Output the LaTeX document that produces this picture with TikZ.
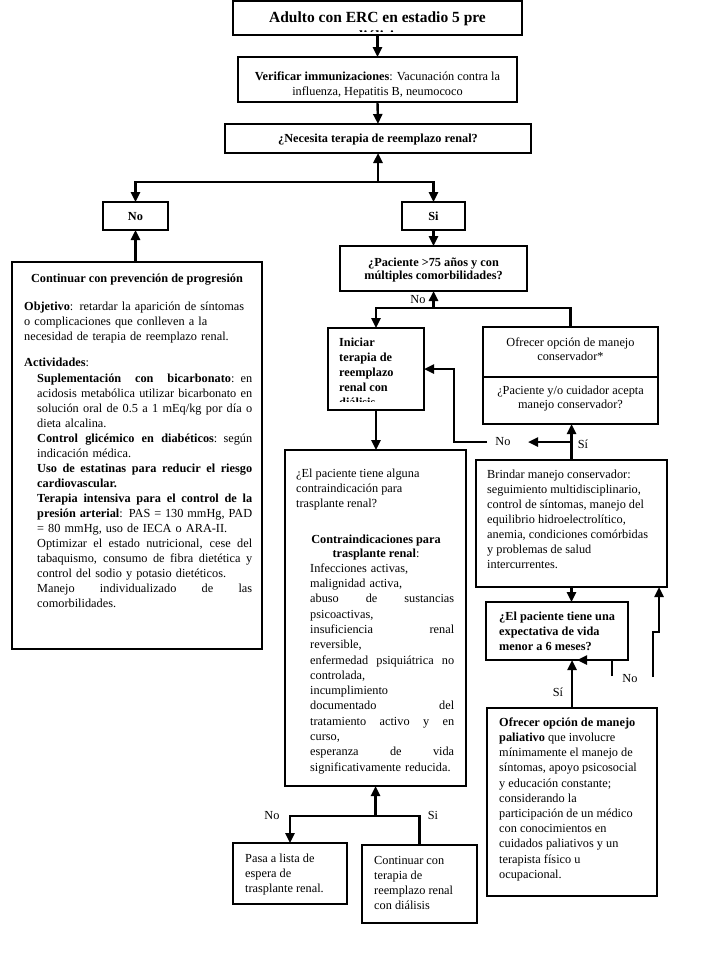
\documentclass[tikz,border=0pt]{standalone}
\usepackage{fontspec}
\setmainfont{Liberation Serif}
\usetikzlibrary{arrows.meta,fit,calc}
\newcommand\fs{\fontsize{12.3}{15}\selectfont}
\newcommand\J[1]{\makebox[\hsize][s]{\spaceskip=0.25em plus 1fil\relax #1}}
\begin{document}
\begin{tikzpicture}[x=1pt,y=-1pt,
 box/.style={draw, line width=1.3pt, inner sep=0pt, outer sep=0pt},
 conn/.style={line width=2.4pt},
 arr/.style={conn, -{Triangle[length=10pt,width=9pt]}},
 txt/.style={inner sep=0pt, anchor=north west, align=left, font=\fs},
 ctxt/.style={inner sep=0pt, anchor=base, align=center, font=\fs},
 lbl/.style={inner sep=0pt, anchor=base, font=\fs}]
\useasboundingbox (0,0) rectangle (708,970);
% boxes
\node[box, fit={(233,1) (522,35)}] (top) {};
\node[box, fit={(238,57) (517,102)}] (ver) {};
\node[box, fit={(225,124) (531,153)}] (nec) {};
\node[box, fit={(103,202) (168,230)}] (no) {};
\node[box, fit={(402,202) (465,230)}] (si) {};
\node[box, fit={(12,262) (262,649)}] (cont) {};
\node[box, fit={(340,246) (527,291)}] (pac) {};
\node[box, fit={(328,328) (424,410)}] (ini) {};
\node[box, fit={(483,327) (658,424)}] (ofr) {};
\node[box, fit={(285,450) (466,786)}] (contra) {};
\node[box, fit={(476,460) (667,587)}] (brin) {};
\node[box, fit={(486,602) (628,660)}] (ep) {};
\node[box, fit={(487,708) (657,896)}] (pal) {};
\node[box, fit={(233,843) (347,904)}] (pasa) {};
\node[box, fit={(362,845) (477,923)}] (contin) {};
\coordinate (divy) at (0,377);
\draw[line width=1.3pt] (ofr.west |- divy) -- (ofr.east |- divy);
% texts
\begin{scope}
\clip (233,0) rectangle (522,31);
\node[ctxt, font=\fontsize{15.5}{17}\selectfont\bfseries] (t1) at (377.5,22) {Adulto con ERC en estadio 5 pre};
\node[ctxt, font=\fontsize{15.5}{17}\selectfont\bfseries] (t2) at (377.5,41) {diálisis};
\end{scope}
\node[txt, anchor=north, align=center] (tver) at (377.5,69.5) {\strut\textbf{Verificar immunizaciones}: Vacunación contra la\\ influenza, Hepatitis B, neumococo};
\node[ctxt, font=\fs\bfseries] (tnec) at (378,142) {¿Necesita terapia de reemplazo renal?};
\node[ctxt, font=\fs\bfseries] (tno) at (135.5,220) {No};
\node[ctxt, font=\fs\bfseries] (tsi) at (433.5,220) {Si};
\node[ctxt, font=\fs\bfseries] (tcont) at (137,282) {Continuar con prevención de progresión};
\node[txt, text width=235pt] (tobj) at (24,299.5) {\strut\textbf{Objetivo}: retardar la aparición de síntomas\\ o complicaciones que conlleven a la\\ necesidad de terapia de reemplazo renal.};
\node[lbl, anchor=base west] (tact) at (24,366) {\textbf{Actividades}:};
\node[txt, text width=215pt] (tlist) at (37,371.5) {\strut\J{\textbf{Suplementación con bicarbonato}: en}\\ \J{acidosis metabólica utilizar bicarbonato en}\\ \J{solución oral de 0.5 a 1 mEq/kg por día o}\\ dieta alcalina.\\ \J{\textbf{Control glicémico en diabéticos}: según}\\ indicación médica.\\ \J{\textbf{Uso de estatinas para reducir el riesgo}}\\ \textbf{cardiovascular.}\\ \J{\textbf{Terapia intensiva para el control de la}}\\ \J{\textbf{presión arterial}: PAS = 130 mmHg, PAD}\\ = 80 mmHg, uso de IECA o ARA-II.\\ \J{Optimizar el estado nutricional, cese del}\\ \J{tabaquismo, consumo de fibra dietética y}\\ control del sodio y potasio dietéticos.\\ \J{Manejo individualizado de las}\\ comorbilidades.};
\node[txt, anchor=north, align=center, font=\fontsize{12.3}{13.5}\selectfont\bfseries] (tpac) at (433.5,256.5) {\strut ¿Paciente >75 años y con\\ múltiples comorbilidades?};
\begin{scope}
\clip (328,328) rectangle (424,401);
\node[txt, font=\fs\bfseries] (tini) at (339,335.5) {\strut Iniciar\\ terapia de\\ reemplazo\\ renal con\\ diálisis};
\end{scope}
\node[txt, anchor=north, align=center, font=\fontsize{12.3}{14}\selectfont] (tofr) at (570.5,336.2) {\strut Ofrecer opción de manejo\\ conservador*};
\node[txt, anchor=north, align=center, font=\fontsize{12.3}{14}\selectfont] (tacep) at (570.5,384.2) {\strut ¿Paciente y/o cuidador acepta\\ manejo conservador?};
\node[txt] (tq) at (296,466.5) {\strut ¿El paciente tiene alguna\\ contraindicación para\\ trasplante renal?};
\node[txt, anchor=north, align=center, font=\fontsize{12.3}{14}\selectfont] (thead) at (376,533.2) {\strut\textbf{Contraindicaciones para}\\ \textbf{trasplante renal}:};
\node[txt, text width=144pt, font=\fontsize{12.3}{15.3}\selectfont] (tci) at (310,561.3) {\strut Infecciones activas,\\ malignidad activa,\\ \J{abuso de sustancias}\\ psicoactivas,\\ \J{insuficiencia renal}\\ reversible,\\ \J{enfermedad psiquiátrica no}\\ controlada,\\ incumplimiento\\ \J{documentado del}\\ \J{tratamiento activo y en}\\ curso,\\ \J{esperanza de vida}\\ significativamente reducida.};
\node[txt] (tbrin) at (487,467.5) {\strut Brindar manejo conservador:\\ seguimiento multidisciplinario,\\ control de síntomas, manejo del\\ equilibrio hidroelectrolítico,\\ anemia, condiciones comórbidas\\ y problemas de salud\\ intercurrentes.};
\node[txt, font=\fs\bfseries] (tep) at (499,609.5) {\strut ¿El paciente tiene una\\ expectativa de vida\\ menor a 6 meses?};
\node[txt, font=\fontsize{12.3}{15.2}\selectfont] (tpal) at (499,715.4) {\strut\textbf{Ofrecer opción de manejo}\\ \textbf{paliativo} que involucre\\ mínimamente el manejo de\\ síntomas, apoyo psicosocial\\ y educación constante;\\ considerando la\\ participación de un médico\\ con conocimientos en\\ cuidados paliativos y un\\ terapista físico u\\ ocupacional.};
\node[txt] (tpasa) at (245,851.5) {\strut Pasa a lista de\\ espera de\\ trasplante renal.};
\node[txt] (tcontin) at (374,853.5) {\strut Continuar con\\ terapia de\\ reemplazo renal\\ con diálisis};
% connectors
\draw[arr] (top.south) -- (ver.north);
\draw[arr] (ver.south) -- (nec.north);
\coordinate (j1) at (378,182);
\draw[arr] (j1) -- (nec.south);
\draw[arr] (j1) -| (no.north);
\draw[arr] (j1) -| (si.north);
\draw[arr] (no.south |- cont.north) -- (no.south);
\draw[arr] (si.south) -- (pac.north);
\coordinate (j2) at ($(pac.south)+(0,17)$);
\draw[arr] (j2) -- (pac.south);
\draw[arr] (j2) -| (ini.north);
\draw[conn] (j2) -| (ofr.north);
\draw[arr] (ini.south) -- (ini.south |- contra.north);
\draw[arr] (brin.north) -- (brin.north |- ofr.south);
\coordinate (nsplit) at ($(brin.north)+(0,-18)$);
\coordinate (notip) at (528,442);
\coordinate (nostart) at (487,442);
\draw[arr] (nsplit) -- (notip);
\draw[arr] (nostart) -| ($(ini.east)+(30,0)$) -- (ini.east);
\draw[arr] (brin.south) -- (brin.south |- ep.north);
\draw[arr] (pal.north) -- (pal.north |- ep.south);
\coordinate (epno) at (612,676);
\draw[arr] (epno) |- ($(pal.north |- ep.south)+(5,0)$);
\coordinate (brno) at (653,677);
\draw[arr] (brno) -- ++(0,-45) -- ++(6,0) -- ($(brin.south east)+(-8,0)$);
\coordinate (j3) at ($(contra.south)+(0,30)$);
\draw[arr] (j3) -- (contra.south);
\draw[arr] (j3) -| (pasa.north);
\draw[conn] (j3) -| (contin.north);
% labels
\node[lbl] (l1) at (418,303) {No};
\node[lbl] (l2) at (503,445) {No};
\node[lbl] (l3) at (583,448) {Sí};
\node[lbl] (l4) at (558,696) {Sí};
\node[lbl] (l5) at (630,682) {No};
\node[lbl] (l6) at (272,819) {No};
\node[lbl] (l7) at (433,819) {Si};
\end{tikzpicture}
\end{document}
